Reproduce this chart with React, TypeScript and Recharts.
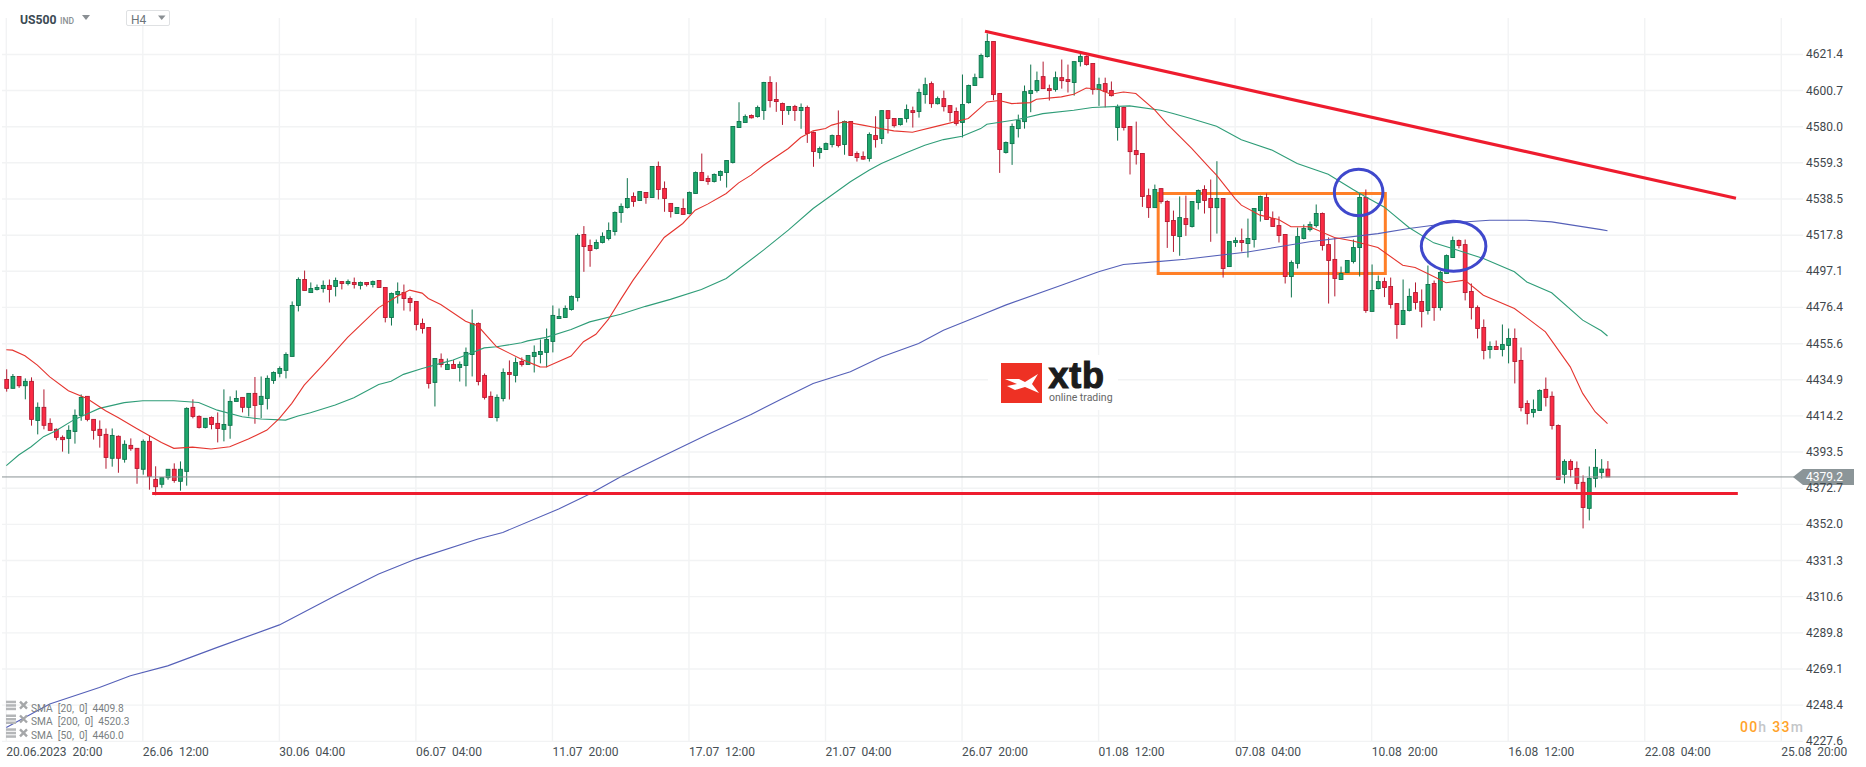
import React from "react";
import { ComposedChart, Bar, Line, XAxis, YAxis, CartesianGrid, ReferenceLine, ReferenceArea, ReferenceDot } from "recharts";

const opens = [
4435.1,4430.0,4436.8,4431.5,4434.0,4411.6,4419.1,4409.9,4406.5,4401.9,
4401.3,4405.3,4414.5,4425.4,4412.2,4406.5,4403.6,4389.9,4402.5,4389.3,
4397.3,4395.6,4383.6,4399.6,4377.8,4375.0,4378.8,4383.6,4376.7,4382.4,
4419.1,4413.9,4407.6,4413.3,4409.9,4406.5,4408.8,4422.5,4424.8,4419.1,
4427.1,4420.8,4424.2,4434.5,4438.6,4440.3,4448.3,4477.5,4492.4,4484.9,
4486.7,4487.2,4489.0,4488.4,4491.2,4490.1,4490.7,4489.0,4490.7,4489.5,
4491.8,4487.8,4470.6,4483.8,4484.9,4481.5,4479.8,4467.2,4464.9,4433.4,
4446.6,4440.8,4443.7,4442.0,4443.1,4449.4,4467.2,4437.4,4425.4,4413.3,
4424.2,4439.1,4437.4,4445.4,4443.7,4448.3,4449.4,4450.6,4456.9,4470.0,
4470.6,4475.2,4482.1,4518.2,4511.9,4510.2,4513.6,4515.9,4519.9,4530.8,
4533.7,4540.0,4537.7,4542.3,4539.4,4557.2,4544.6,4536.0,4530.2,4533.1,
4530.2,4541.7,4553.7,4550.3,4548.6,4552.0,4553.7,4559.5,4579.5,4582.4,
4586.4,4585.8,4589.3,4605.3,4595.6,4593.3,4589.3,4591.6,4589.3,4591.0,
4576.7,4565.2,4566.9,4569.8,4574.9,4569.8,4583.0,4564.6,4562.9,4561.8,
4574.9,4573.2,4589.2,4584.7,4581.2,4584.7,4589.2,4588.7,4598.4,4604.7,
4593.2,4596.1,4592.1,4588.7,4582.4,4593.8,4603.6,4608.1,4620.2,4628.8,
4599.0,4565.2,4570.3,4578.9,4582.9,4599.0,4600.7,4608.7,4601.8,4601.3,
4608.1,4607.0,4605.3,4617.3,4620.2,4616.2,4601.3,4604.7,4600.7,4579.5,
4591.0,4580.1,4566.3,4564.6,4540.5,4533.6,4544.5,4537.1,4526.2,4517.0,
4527.3,4522.8,4536.5,4544.0,4538.8,4533.6,4538.8,4499.8,4513.6,4514.7,
4513.0,4515.3,4531.9,4539.4,4527.3,4523.3,4518.2,4494.1,4501.6,4515.9,
4521.0,4523.3,4530.2,4512.4,4503.9,4492.4,4496.4,4502.7,4510.7,4539.4,
4474.1,4487.2,4491.2,4488.4,4478.6,4466.6,4474.6,4484.9,4479.8,4474.6,
4490.1,4476.3,4495.8,4505.0,4514.7,4512.4,4485.5,4476.3,4464.9,4452.3,
4454.0,4452.3,4454.6,4458.6,4446.0,4421.3,4416.2,4417.3,4429.4,4425.4,
4408.7,4380.7,4388.1,4384.1,4376.1,4361.2,4378.4,4381.8,4383.7,
];

const highs = [
4440.9,4438.2,4436.8,4435.7,4436.3,4421.9,4429.4,4412.8,4407.0,4403.0,
4408.8,4417.9,4426.5,4425.4,4412.2,4411.6,4407.0,4407.0,4403.0,4400.2,
4401.3,4395.6,4400.7,4403.0,4385.3,4378.8,4383.6,4387.0,4388.1,4419.1,
4423.7,4414.5,4412.8,4413.9,4416.2,4429.4,4425.4,4428.8,4424.8,4427.1,
4436.5,4436.8,4437.4,4439.7,4442.6,4450.6,4479.8,4493.6,4497.5,4490.7,
4489.5,4491.8,4492.4,4493.5,4491.2,4492.4,4493.5,4491.2,4490.7,4491.8,
4491.8,4487.8,4484.9,4490.7,4489.5,4482.7,4479.8,4470.0,4464.9,4447.1,
4450.0,4447.1,4446.2,4445.4,4453.4,4475.2,4467.8,4438.5,4428.2,4426.5,
4441.4,4446.0,4447.7,4447.7,4448.8,4454.6,4458.0,4464.3,4477.5,4475.8,
4477.5,4483.2,4518.7,4523.0,4515.3,4515.3,4519.4,4525.1,4531.4,4536.0,
4550.5,4542.3,4542.8,4542.3,4557.2,4560.0,4548.6,4536.0,4533.7,4538.8,
4542.8,4554.3,4564.6,4552.0,4553.2,4554.9,4560.6,4580.1,4594.0,4587.0,
4587.0,4592.1,4605.7,4608.9,4605.5,4593.8,4591.6,4592.5,4593.3,4592.1,
4577.2,4568.6,4570.9,4575.5,4589.3,4583.5,4583.0,4565.8,4565.8,4576.7,
4586.0,4589.4,4589.2,4584.7,4584.7,4592.7,4591.5,4601.8,4608.1,4605.9,
4597.3,4600.7,4592.1,4591.0,4609.9,4604.1,4610.4,4621.9,4633.4,4628.8,
4599.0,4571.5,4581.8,4586.9,4603.6,4615.6,4611.6,4617.3,4604.1,4611.6,
4618.5,4615.6,4617.3,4621.9,4620.8,4616.2,4608.1,4608.1,4605.9,4592.7,
4591.5,4580.1,4582.9,4564.6,4544.5,4546.8,4544.5,4537.8,4531.9,4540.0,
4540.5,4537.1,4544.0,4546.4,4549.7,4560.2,4538.8,4514.2,4516.5,4521.6,
4527.3,4533.1,4540.5,4541.7,4531.4,4528.5,4518.2,4503.3,4522.2,4523.9,
4525.6,4535.4,4530.8,4516.5,4516.5,4499.8,4503.5,4515.3,4541.7,4544.0,
4501.0,4494.7,4493.5,4493.5,4478.6,4492.4,4487.2,4490.7,4486.7,4500.4,
4491.8,4497.5,4506.7,4517.0,4515.3,4515.3,4490.1,4477.5,4469.5,4456.9,
4457.4,4466.6,4464.3,4464.3,4453.4,4423.1,4423.6,4429.4,4436.2,4428.2,
4409.3,4389.3,4389.3,4388.1,4380.1,4385.2,4395.2,4389.4,4388.3,
];

const lows = [
4428.1,4430.0,4430.3,4423.7,4408.6,4403.6,4406.5,4405.9,4400.2,4393.7,
4392.5,4398.3,4411.4,4411.1,4400.6,4396.0,4383.9,4385.1,4381.6,4387.4,
4394.2,4375.3,4380.5,4371.9,4368.7,4373.0,4377.6,4375.9,4371.3,4374.2,
4412.8,4407.0,4407.0,4406.5,4399.0,4399.6,4401.1,4422.5,4416.2,4413.9,
4409.7,4412.8,4417.9,4432.6,4436.3,4435.7,4448.3,4474.1,4486.1,4484.9,
4486.1,4484.9,4479.2,4482.7,4486.7,4489.0,4487.2,4486.7,4488.4,4487.8,
4487.8,4467.8,4466.0,4478.6,4474.6,4474.1,4463.2,4461.4,4429.9,4419.6,
4442.0,4440.8,4441.4,4433.9,4431.1,4436.8,4431.7,4423.6,4413.3,4411.0,
4422.5,4423.6,4433.4,4442.5,4443.7,4439.1,4444.3,4442.0,4450.6,4470.0,
4470.6,4474.6,4479.8,4496.8,4499.7,4509.6,4513.1,4514.8,4517.6,4524.9,
4533.1,4534.1,4537.7,4535.8,4539.4,4538.3,4531.2,4527.9,4530.2,4529.7,
4529.7,4541.7,4549.1,4546.7,4548.0,4549.0,4545.1,4558.9,4579.5,4582.4,
4584.7,4585.2,4583.9,4591.0,4588.5,4581.0,4586.8,4583.3,4578.8,4570.7,
4557.0,4561.6,4566.9,4568.1,4568.1,4563.9,4563.5,4560.0,4561.0,4560.0,
4568.0,4570.1,4576.1,4579.5,4580.6,4582.4,4579.5,4585.2,4593.2,4590.8,
4592.7,4588.7,4582.9,4580.6,4573.8,4593.2,4603.6,4608.1,4619.6,4595.2,
4553.5,4564.6,4558.1,4573.8,4578.9,4588.3,4599.6,4601.8,4595.0,4600.1,
4601.8,4599.6,4597.8,4614.5,4615.0,4598.4,4591.9,4591.0,4597.3,4572.0,
4577.8,4552.6,4558.3,4534.0,4527.7,4533.6,4535.9,4510.5,4508.2,4506.0,
4517.4,4522.2,4532.5,4530.2,4514.0,4518.7,4493.5,4499.8,4511.1,4508.4,
4505.0,4510.7,4525.6,4526.8,4522.8,4513.6,4490.1,4482.1,4498.7,4515.3,
4519.9,4522.2,4509.0,4478.6,4482.7,4492.4,4496.4,4501.6,4494.1,4473.3,
4474.1,4486.7,4482.3,4475.8,4458.4,4466.6,4474.1,4475.2,4464.9,4472.3,
4468.7,4474.6,4495.8,4505.0,4510.2,4480.4,4469.5,4458.6,4446.6,4447.1,
4452.3,4448.3,4444.3,4432.8,4416.8,4409.3,4413.3,4417.3,4419.6,4406.4,
4377.8,4375.5,4378.9,4372.1,4349.7,4354.3,4373.2,4378.3,4379.2,
];

const closes = [
4430.0,4436.8,4431.5,4434.0,4412.2,4419.1,4408.8,4405.9,4401.9,4400.6,
4405.9,4414.5,4424.8,4412.2,4405.9,4403.0,4390.4,4403.0,4389.9,4397.9,
4395.4,4384.1,4399.6,4379.5,4373.6,4378.8,4383.6,4377.2,4383.6,4418.5,
4413.9,4407.6,4412.8,4409.3,4407.0,4409.3,4422.5,4424.2,4419.1,4427.1,
4420.2,4425.4,4435.7,4439.1,4441.4,4449.4,4477.5,4492.4,4486.1,4487.2,
4487.8,4489.0,4486.7,4491.8,4490.1,4491.2,4489.5,4490.7,4489.5,4491.2,
4487.8,4470.6,4484.4,4485.5,4481.5,4479.2,4466.6,4464.3,4432.8,4447.1,
4443.7,4443.7,4441.4,4443.7,4450.6,4467.2,4433.9,4424.8,4413.3,4424.8,
4439.1,4438.0,4444.8,4443.7,4448.8,4450.6,4451.1,4458.0,4471.8,4471.2,
4475.8,4482.7,4517.6,4511.3,4509.0,4513.6,4517.1,4520.5,4530.8,4534.3,
4538.8,4537.1,4542.8,4539.4,4557.2,4544.0,4538.8,4531.4,4533.7,4529.7,
4542.3,4553.7,4549.1,4548.6,4552.6,4554.3,4560.6,4580.1,4583.0,4585.8,
4585.1,4591.0,4605.3,4595.0,4594.4,4589.3,4591.6,4589.3,4591.0,4576.1,
4565.8,4567.5,4570.3,4574.9,4569.2,4583.0,4563.5,4562.3,4561.4,4575.5,
4572.6,4589.2,4584.7,4580.6,4584.7,4589.8,4588.1,4599.6,4604.1,4593.2,
4596.1,4591.5,4588.1,4581.8,4592.7,4603.6,4608.1,4620.8,4628.8,4598.4,
4566.9,4570.9,4580.1,4583.5,4600.1,4600.7,4606.4,4601.8,4600.7,4608.1,
4606.4,4605.9,4617.3,4620.2,4615.6,4601.3,4604.1,4600.1,4597.8,4591.0,
4579.5,4565.7,4564.0,4540.0,4533.6,4544.0,4537.1,4525.6,4517.6,4527.9,
4523.9,4537.1,4543.4,4537.7,4533.6,4538.8,4498.7,4514.2,4514.7,4513.6,
4515.9,4533.1,4540.0,4526.8,4522.8,4517.6,4494.1,4502.1,4517.0,4521.6,
4523.9,4530.2,4511.9,4503.3,4493.0,4495.8,4503.3,4510.7,4539.4,4474.6,
4486.1,4491.2,4487.8,4478.1,4466.6,4474.6,4482.7,4479.2,4474.1,4489.5,
4476.3,4496.4,4506.1,4514.7,4511.9,4484.9,4476.3,4464.3,4451.7,4454.0,
4452.3,4455.1,4458.6,4445.4,4419.0,4415.6,4417.9,4428.8,4424.8,4408.7,
4377.8,4388.1,4383.5,4375.5,4361.7,4378.4,4384.7,4383.7,4379.2,
];

const sma20Idx = [0,1,3,5,7,10,13,16,18,21,23,25,27,30,33,36,39,42,44,46,48,51,55,60,63,65,67,68,70,74,76,79,83,86,87,91,93,95,97,99,101,106,109,111,113,116,118,120,122,126,128,130,132,133,135,138,140,143,146,150,155,158,160,162,165,166,170,172,174,176,178,180,182,185,187,191,194,195,198,199,202,205,207,210,214,217,221,225,227,229,232,235,238,243,248,252,254,256,258];
const sma20Val = [4452.1,4451.9,4448.7,4443.3,4436.6,4428.6,4424.2,4417.2,4413.3,4407.0,4403.0,4399.0,4395.6,4396.3,4395.2,4396.5,4400.9,4406.1,4412.8,4421.4,4431.8,4443.3,4459.2,4476.3,4482.8,4486.3,4484.6,4481.5,4478.1,4468.5,4465.7,4453.8,4446.7,4442.3,4442.2,4448.5,4456.7,4461.0,4469.5,4481.0,4492.0,4516.5,4524.5,4532.1,4535.6,4541.7,4547.8,4552.2,4557.9,4567.5,4573.8,4577.6,4578.9,4580.9,4582.8,4580.9,4579.5,4577.6,4576.8,4580.3,4584.7,4594.2,4595.0,4593.2,4593.8,4595.7,4597.1,4598.6,4602.2,4601.5,4598.6,4599.9,4599.0,4589.8,4581.8,4567.5,4556.0,4552.2,4538.8,4535.0,4529.3,4526.8,4522.6,4522.6,4516.5,4514.5,4510.7,4500.6,4499.3,4495.8,4490.5,4492.0,4483.4,4475.8,4462.4,4442.3,4427.1,4416.6,4409.8];

const sma50Idx = [0,2,4,6,8,11,13,15,19,22,27,31,34,38,41,45,47,49,53,56,60,62,64,67,70,72,75,77,79,83,84,87,91,94,99,103,107,112,116,122,126,130,136,139,141,145,148,151,154,157,158,163,167,172,175,181,186,188,191,195,199,204,208,213,217,219,222,226,230,233,238,243,245,249,254,257,258];
const sma50Val = [4385.7,4391.8,4396.5,4402.3,4405.7,4412.2,4415.3,4418.5,4421.8,4422.9,4422.9,4421.9,4417.5,4413.7,4412.4,4411.8,4414.1,4416.0,4420.4,4424.6,4432.2,4434.1,4438.0,4441.4,4444.3,4446.2,4450.4,4453.2,4453.8,4456.1,4457.2,4459.2,4463.7,4468.1,4472.5,4477.0,4481.0,4486.7,4493.0,4509.2,4520.7,4533.1,4548.4,4555.0,4558.9,4565.0,4569.4,4572.6,4574.5,4578.9,4581.4,4584.1,4587.5,4589.4,4591.0,4591.9,4589.4,4587.5,4584.5,4580.3,4572.5,4566.5,4558.9,4552.7,4544.0,4539.8,4534.0,4522.2,4513.4,4510.2,4504.4,4496.8,4491.0,4484.8,4469.1,4463.0,4460.0];

const sma200Idx = [0,7,15,20,26,34,44,53,60,66,76,80,89,94,99,106,113,120,125,130,136,141,147,151,157,161,170,176,180,185,190,200,210,221,226,233,239,245,249,257,258];
const sma200Val = [4235.6,4249.0,4258.5,4265.2,4270.9,4281.5,4294.4,4311.1,4323.5,4332.1,4343.6,4347.4,4360.8,4369.4,4379.3,4391.5,4403.5,4415.0,4424.0,4432.8,4439.5,4448.0,4455.7,4463.3,4471.9,4477.7,4489.1,4496.8,4501.0,4502.5,4504.0,4508.2,4514.0,4518.7,4521.6,4524.9,4526.4,4526.4,4525.4,4521.0,4520.3];

const priceTicks = [4621.4,4600.7,4580.0,4559.3,4538.5,4517.8,4497.1,4476.4,4455.6,4434.9,4414.2,4393.5,4372.7,4352.0,4331.3,4310.6,4289.8,4269.1,4248.4,4227.6];
const timeTicks = [0,22,44,66,88,110,132,154,176,198,220,242,264,286];
const timeLabels = ["20.06.2023  20:00","26.06  12:00","30.06  04:00","06.07  04:00","11.07  20:00","17.07  12:00","21.07  04:00","26.07  20:00","01.08  12:00","07.08  04:00","10.08  20:00","16.08  12:00","22.08  04:00","25.08  20:00"];
const legendLabels = ["SMA  [20,  0]  4409.8","SMA  [200,  0]  4520.3","SMA  [50,  0]  4460.0"];

const LAST_PRICE = 4379.2;
const SUPPORT = 4369.7;
const trendStart = { x: 157.7, y: 4634.7 };
const trendEnd = { x: 278.7, y: 4539.0 };
const supportStart = 23.5;
const supportEnd = 279;
const box = { x1: 185.6, x2: 222.2, y1: 4541.7, y2: 4495.8 };
const circleA = { x: 217.9, y: 4542.3 };
const circleB = { x: 233.2, y: 4511.5 };

const FONT = "Roboto, sans-serif";

const sparse = (idx: number[], val: number[]) => {
  const m = new Map<number, number>();
  idx.forEach((k, n) => m.set(k, val[n]));
  return m;
};
const s20 = sparse(sma20Idx, sma20Val);
const s50 = sparse(sma50Idx, sma50Val);
const s200 = sparse(sma200Idx, sma200Val);

const rows = opens.map((o, i) => ({
  i,
  open: o,
  high: highs[i],
  low: lows[i],
  close: closes[i],
  range: [lows[i], highs[i]],
  sma20: s20.get(i) ?? null,
  sma50: s50.get(i) ?? null,
  sma200: s200.get(i) ?? null,
}));

const Candle = (props: any) => {
  const { x, y, width, height, payload } = props;
  const { open, close, high, low } = payload;
  const up = close >= open;
  const unit = height / (high - low);
  const cx = x + width / 2;
  const yOf = (p: number) => y + (high - p) * unit;
  const top = yOf(Math.max(open, close));
  const bot = yOf(Math.min(open, close));
  const fill = up ? "#1fa76c" : "#fb2b44";
  const edge = up ? "#0d734c" : "#b31a30";
  return (
    <g>
      <line x1={cx} x2={cx} y1={y} y2={y + height} stroke={edge} strokeWidth={1} />
      <rect x={cx - 1.9} y={top} width={3.8} height={Math.max(bot - top, 1)} fill={fill} stroke={edge} strokeWidth={0.9} />
    </g>
  );
};

const TimeTick = (props: any) => {
  const { x, y, index } = props;
  return (
    <text x={x} y={y + 8.5} dominantBaseline="central" textAnchor="start" fontFamily={FONT} fontSize={12} fill="#474f54" style={{ whiteSpace: "pre" }}>
      {timeLabels[index].replace(/ /g, "\u00a0")}
    </text>
  );
};

const PriceTick = (props: any) => {
  const { x, y, payload } = props;
  return (
    <text x={x} y={y} dominantBaseline="central" textAnchor="start" fontFamily={FONT} fontSize={12} fill="#3f474c">
      {payload.value.toFixed(1)}
    </text>
  );
};

const Ring = (rx: number, ry: number) => (props: any) => (
  <ellipse cx={props.cx} cy={props.cy} rx={rx} ry={ry} fill="none" stroke="#3f48cc" strokeWidth={3} />
);

const PriceTag = (props: any) => {
  const vb = props.viewBox;
  const cy = vb.y;
  const left = vb.x + vb.width - 10;
  return (
    <g>
      <polygon points={`${left},${cy} ${left + 10},${cy - 8} ${left + 61},${cy - 8} ${left + 61},${cy + 8} ${left + 10},${cy + 8}`} fill="#8b9598" />
      <text x={left + 13} y={cy} dominantBaseline="central" fontFamily={FONT} fontSize={12} fill="#ffffff">
        {LAST_PRICE.toFixed(1)}
      </text>
    </g>
  );
};

const Overlay = () => (
  <svg width={1866} height={767} style={{ position: "absolute", left: 0, top: 0, pointerEvents: "none" }}>
    <text x={20} y={24} fontFamily={FONT} fontSize={12.2} fontWeight={700} fill="#3c4a54">US500</text>
    <text x={60} y={23.5} fontFamily={FONT} fontSize={8.5} fontWeight={500} fill="#8a8f93">IND</text>
    <polygon points="82,15 90,15 86,20" fill="#8a8f93" />
    <rect x={126.5} y={10.5} width={43} height={15} rx={1.5} fill="#fff" stroke="#dfe1e3" />
    <text x={131} y={24} fontFamily={FONT} fontSize={12} fill="#6d757a">H4</text>
    <polygon points="158,15.5 165.5,15.5 161.7,20" fill="#8a8f93" />

    <rect x={988} y={355} width={130} height={55} fill="#fff" />
    <rect x={1001} y={363} width={41} height={40} fill="#ee3124" />
    <polygon points="1005,379 1019,379 1025,382 1038,374 1032,384 1039,393 1025,387 1015,390 1007,386 1017,384" fill="#fff" />
    <text x={1048.5} y={388} fontFamily="'Liberation Sans', sans-serif" fontSize={36} fontWeight={700} fill="#1c1c1c" stroke="#1c1c1c" strokeWidth={1.1} letterSpacing={0.8}>xtb</text>
    <text x={1049} y={400.7} fontFamily={FONT} fontSize={10.5} fill="#666">online trading</text>

    {legendLabels.map((t, n) => {
      const y = 705.7 + n * 13.8;
      return (
        <g key={t}>
          <rect x={6} y={y - 5} width={10} height={2.5} fill="#b4b6b8" />
          <rect x={6} y={y - 1.5} width={10} height={2.5} fill="#b4b6b8" />
          <rect x={6} y={y + 2} width={10} height={2.5} fill="#b4b6b8" />
          <path d={`M20 ${y - 4} L27 ${y + 3} M27 ${y - 4} L20 ${y + 3}`} stroke="#a5a7a9" strokeWidth={2.4} />
          <text x={31} y={y + 2.4} dominantBaseline="central" fontFamily={FONT} fontSize={10.2} fill="#7b7f82" style={{ whiteSpace: "pre" }}>
            {t.replace(/ /g, "\u00a0")}
          </text>
        </g>
      );
    })}

    <text x={1740} y={727} dominantBaseline="central" fontFamily={FONT} fontSize={14} fontWeight={500} letterSpacing={1.2}>
      <tspan fill="#ffa32b">00</tspan>
      <tspan fill="#c4c6c8">h</tspan>
      <tspan fill="#ffa32b" dx={5}>33</tspan>
      <tspan fill="#c4c6c8">m</tspan>
    </text>
  </svg>
);

export default function App() {
  return (
    <div style={{ position: "absolute", left: 0, top: 0, width: 1866, height: 767, background: "#fff", overflow: "hidden" }}>
      <ComposedChart width={1866} height={767} data={rows} margin={{ top: 18, right: 0, bottom: 0, left: 2 }}>
        <CartesianGrid stroke="#f2f3f4" strokeWidth={1.4} horizontalValues={priceTicks} verticalValues={timeTicks} />
        <XAxis
          dataKey="i"
          type="number"
          domain={[-0.693, 289.5]}
          ticks={timeTicks}
          interval={0}
          height={25.6}
          tickLine={false}
          axisLine={false}
          tickSize={0}
          tick={<TimeTick />}
          allowDataOverflow
        />
        <YAxis
          orientation="right"
          type="number"
          domain={[4227.6, 4642.3]}
          ticks={priceTicks}
          interval={0}
          width={63}
          tickLine={false}
          axisLine={false}
          tickSize={0}
          tickMargin={3}
          tick={<PriceTick />}
          allowDataOverflow
        />
        <Bar dataKey="range" barSize={5} shape={<Candle />} isAnimationActive={false} />
        <Line dataKey="sma200" type="linear" stroke="#5560b8" strokeWidth={1.1} dot={false} connectNulls isAnimationActive={false} />
        <Line dataKey="sma50" type="linear" stroke="#2f9d78" strokeWidth={1.1} dot={false} connectNulls isAnimationActive={false} />
        <Line dataKey="sma20" type="linear" stroke="#e5352f" strokeWidth={1.1} dot={false} connectNulls isAnimationActive={false} />
        <ReferenceLine y={LAST_PRICE} stroke="#8a9294" strokeWidth={1} label={<PriceTag />} />
        <ReferenceLine
          segment={[{ x: supportStart, y: SUPPORT }, { x: supportEnd, y: SUPPORT }]}
          stroke="#ee1c2e"
          strokeWidth={3}
        />
        <ReferenceLine segment={[trendStart, trendEnd]} stroke="#ee1c2e" strokeWidth={3.2} />
        <ReferenceArea x1={box.x1} x2={box.x2} y1={box.y1} y2={box.y2} fill="none" fillOpacity={0} stroke="#ff7f27" strokeWidth={3} />
        <ReferenceDot x={circleA.x} y={circleA.y} r={24} shape={Ring(24.3, 23.3)} />
        <ReferenceDot x={circleB.x} y={circleB.y} r={30} shape={Ring(32.3, 25)} />
      </ComposedChart>
      <Overlay />
    </div>
  );
}
